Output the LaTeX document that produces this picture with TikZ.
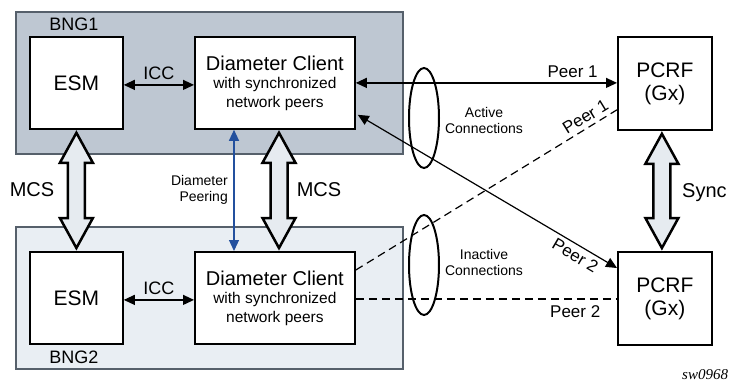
\documentclass[tikz,border=0pt]{standalone}
\usepackage{fontspec}
\setmainfont{Liberation Sans}
\newfontfamily\swfont{Liberation Serif}
\usetikzlibrary{arrows.meta,calc}
\definecolor{bngone}{HTML}{BEC7D2}
\definecolor{bngtwo}{HTML}{E9EEF3}
\definecolor{bngedge}{HTML}{56606B}
\definecolor{bigfill}{HTML}{E6EBF0}
\definecolor{peerblue}{HTML}{23509E}
\newcommand{\fsz}[2]{\fontsize{#1}{#2}\selectfont}
\newcommand{\bigdarrow}[2]{%
  \draw[bigarrow] ($(#1)+(0,3)$) -- ++(16.5,30) -- ++(-8,0) -- ($(#2)+(8.5,-33)$)
    -- ++(8,0) -- ($(#2)+(0,-3)$) -- ++(-16.5,-30) -- ++(8,0)
    -- ($(#1)+(-8.5,33)$) -- ++(-8,0) -- cycle;}
\tikzset{
  x=1pt, y=-1pt,
  bng/.style={draw=bngedge, line width=2pt, anchor=north west, minimum width=387pt, minimum height=142pt},
  boxnode/.style={draw, fill=white, line width=1.8pt, anchor=north west, align=center, inner sep=0pt},
  esmbox/.style={boxnode, minimum width=93pt, minimum height=92pt, font=\fsz{21}{24}},
  dcbox/.style={boxnode, minimum width=160pt, minimum height=92pt, font=\fsz{15.5}{18.5}},
  pcrfbox/.style={boxnode, minimum width=94pt, minimum height=93pt, font=\fsz{21}{23}},
  tip/.tip={Triangle[length=11pt,width=10pt]},
  conn/.style={line width=1.2pt, tip-tip},
  dashconn/.style={line width=1.2pt, dash pattern=on 8pt off 5pt},
  bigarrow/.style={draw, fill=bigfill, line width=2.5pt, line join=miter},
  lbl/.style={inner sep=0pt, font=\fsz{18}{20}},
  peerlbl/.style={inner sep=0pt, font=\fsz{17}{19}},
  smalllbl/.style={inner sep=0pt, align=center, font=\fsz{14}{16}},
  ellip/.style={draw, line width=2pt, x radius=15pt, y radius=50pt},
}
\begin{document}
\begin{tikzpicture}
\useasboundingbox (0,0) rectangle (729,383);
% BNG frames
\node[bng, fill=bngone] (bng1) at (15,11) {};
\node[bng, fill=bngtwo] (bng2) at (15,226) {};
\node[lbl] (bng1lbl) at (74,24) {BNG1};
\node[lbl] (bng2lbl) at (74,357) {BNG2};
% boxes
\node[esmbox] (esm1) at (29,36) {ESM};
\node[esmbox] (esm2) at (29,251) {ESM};
\node[dcbox] (dc1) at (194,36) {{\fsz{20}{22}Diameter Client}\\with synchronized\\network peers};
\node[dcbox] (dc2) at (194,251) {{\fsz{20}{22}Diameter Client}\\with synchronized\\network peers};
\node[pcrfbox] (pcrf1) at (617,36) {PCRF\\(Gx)};
\node[pcrfbox] (pcrf2) at (617,251) {PCRF\\(Gx)};
% ICC
\draw[conn] ($(esm1.east)+(0,2)$) -- ($(dc1.west)+(0,2)$) node[lbl, midway, above=5pt] (icc1) {ICC};
\draw[conn] ($(esm2.east)+(0,2)$) -- ($(dc2.west)+(0,2)$) node[lbl, midway, above=5pt] (icc2) {ICC};
% MCS and Sync big arrows
\coordinate (m1t) at ($(esm1.south)$);
\coordinate (m1b) at ($(esm2.north)$);
\coordinate (m2t) at ($(dc1.south west)+(85,0)$);
\coordinate (m2b) at ($(dc2.north west)+(85,0)$);
\coordinate (s1t) at ($(pcrf1.south)+(-3,0)$);
\coordinate (s1b) at ($(pcrf2.north)+(-3,0)$);
\bigdarrow{m1t}{m1b}
\bigdarrow{m2t}{m2b}
\bigdarrow{s1t}{s1b}
\node[lbl, font=\fsz{20}{22}] (mcs1) at (32,190) {MCS};
\node[lbl, font=\fsz{20}{22}] (mcs2) at (319,190) {MCS};
\node[lbl, font=\fsz{20}{22}, anchor=west] (sync) at (682,193) {Sync};
% Diameter peering
\draw[line width=1.2pt, color=peerblue, tip-tip]
  ($(dc1.south west)+(40,0)$) -- ($(dc2.north west)+(40,0)$);
\node[smalllbl, anchor=east, align=right] (dpeer) at (228,190) {Diameter\\Peering};
% peer connections
\draw[conn] (dc1.east) -- (dc1.east -| pcrf1.west) node[peerlbl, pos=0.83, above=5pt] (p1a) {Peer 1};
\coordinate (pc2a) at ($(pcrf2.north west)+(0,17)$);
\coordinate (dc1b) at ($(dc1.south east)+(2,-15)$);
\draw[conn] (dc1b) -- (pc2a) node[peerlbl, pos=0.86, sloped, below=4pt] (p2a) {Peer 2};
\coordinate (dc2a) at ($(dc2.north east)+(0,19)$);
\coordinate (pc1b) at ($(pcrf1.south west)+(0,-21)$);
\draw[dashconn] (dc2a) -- (pc1b) node[peerlbl, pos=0.9, sloped, above=4pt] (p1b) {Peer 1};
\draw[dashconn] ($(dc2.east)+(0,1)$) -- ($(dc2.east -| pcrf2.west)+(0,1)$) node[peerlbl, pos=0.84, below=6pt] (p2b) {Peer 2};
% ellipses
\draw[ellip] (424,118) circle;
\draw[ellip] (424,265) circle;
\node[smalllbl] (act) at (484,120) {Active\\Connections};
\node[smalllbl] (inact) at (484,262) {Inactive\\Connections};
% figure id
\node[anchor=base west, inner sep=0pt, font=\swfont\itshape\fsz{15}{17}] (sw) at (682,379) {sw0968};
\end{tikzpicture}
\end{document}
